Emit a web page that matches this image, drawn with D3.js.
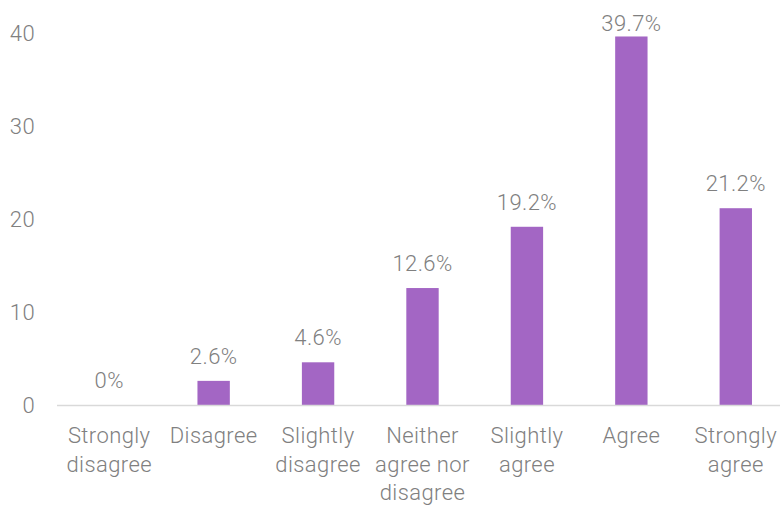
<!DOCTYPE html>
<html>
<head>
<meta charset="utf-8">
<script src="https://cdn.jsdelivr.net/npm/d3@7"></script>
<style>
  html, body { margin: 0; padding: 0; background: #fff; }
  svg { display: block; }
  text { font-family: "Helvetica Neue", Roboto, "Liberation Sans", Arial, sans-serif; font-weight: 300; fill: #808080; letter-spacing: 0.4px; }
</style>
</head>
<body>
<svg id="chart" width="780" height="506"></svg>
<script>
// Survey responses (% of respondents)
const categories = [
  ["Strongly", "disagree"],
  ["Disagree"],
  ["Slightly", "disagree"],
  ["Neither", "agree nor", "disagree"],
  ["Slightly", "agree"],
  ["Agree"],
  ["Strongly", "agree"]
];
const values = [0, 2.6, 4.6, 12.6, 19.2, 39.7, 21.2];
const yTicks = [0, 10, 20, 30, 40];

const svg = d3.select("#chart");
const W = 780;
const baseY = 405;
const fontSize = 22;

const keys = categories.map((c, i) => i);
const x = d3.scaleBand().domain(keys).range([57, 788]).paddingInner(0.69).paddingOuter(0.345);
const y = d3.scaleLinear().domain([0, 40]).range([baseY, 33.7]);

// y-axis labels (no axis line, no ticks)
const yAxis = d3.axisLeft(y).tickValues(yTicks).tickSize(0).tickPadding(0);
const gy = svg.append("g").attr("transform", "translate(35,0)").call(yAxis);
gy.attr("font-family", null).attr("font-size", null);
gy.select(".domain").remove();
gy.selectAll("text").attr("font-size", fontSize).attr("fill", "#808080");

// bars
svg.append("g").selectAll("rect").data(values).join("rect")
  .attr("x", (d, i) => x(i))
  .attr("width", x.bandwidth())
  .attr("y", d => y(d))
  .attr("height", d => baseY - y(d))
  .attr("fill", "#a366c4");

// baseline
svg.append("line")
  .attr("x1", 57).attr("x2", W)
  .attr("y1", baseY + 0.5).attr("y2", baseY + 0.5)
  .attr("stroke", "#d9d9d9").attr("stroke-width", 1.5);

// value labels
svg.append("g").selectAll("text").data(values).join("text")
  .attr("x", (d, i) => x(i) + x.bandwidth() / 2)
  .attr("y", d => Math.max(y(d) - 17, 31))
  .attr("text-anchor", "middle")
  .attr("font-size", fontSize)
  .text(d => d + "%");

// category labels
const cg = svg.append("g").selectAll("text").data(categories).join("text")
  .attr("x", (d, i) => x(i) + x.bandwidth() / 2)
  .attr("y", 443)
  .attr("text-anchor", "middle")
  .attr("font-size", fontSize);
cg.selectAll("tspan").data(d => d).join("tspan")
  .attr("x", function() { return this.parentNode.getAttribute("x"); })
  .attr("dy", (d, j) => j === 0 ? 0 : 28.5)
  .text(d => d);
</script>
</body>
</html>
